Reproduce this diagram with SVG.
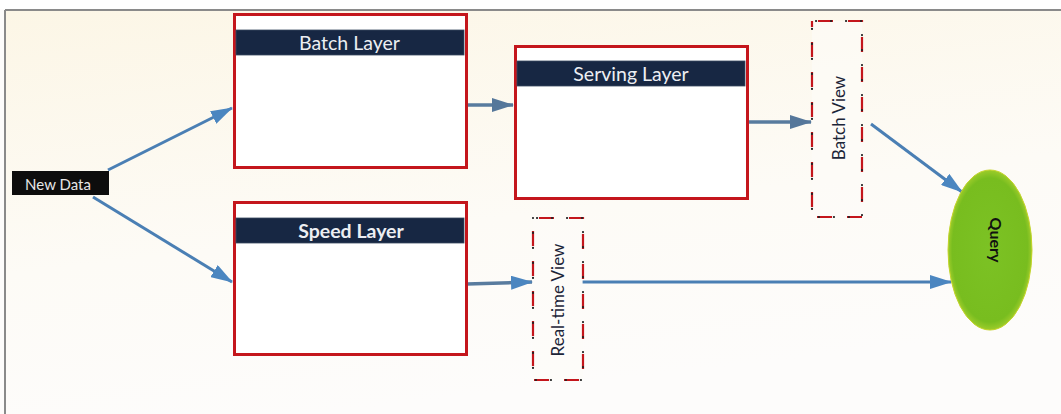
<svg xmlns="http://www.w3.org/2000/svg" width="1061" height="414" viewBox="0 0 1061 414">
<defs>
<linearGradient id="bg" x1="0" y1="0" x2="0.3" y2="1">
<stop offset="0" stop-color="#fcf6e6"/>
<stop offset="0.6" stop-color="#fdfbf6"/>
<stop offset="1" stop-color="#fdfcfb"/>
</linearGradient>
<radialGradient id="qg" cx="0.5" cy="0.5" r="0.5">
<stop offset="0" stop-color="#7cc224"/>
<stop offset="0.9" stop-color="#78bd1f"/>
<stop offset="1" stop-color="#9ccc2a"/>
</radialGradient>
<marker id="ah" viewBox="0 0 22 14" refX="21" refY="7" markerWidth="22" markerHeight="14" markerUnits="userSpaceOnUse" orient="auto">
<path d="M0,0 L22,7 L0,14 z" fill="#4b86c0"/>
</marker>
<marker id="ah2" viewBox="0 0 22 14" refX="21" refY="7" markerWidth="22" markerHeight="14" markerUnits="userSpaceOnUse" orient="auto">
<path d="M0,0 L22,7 L0,14 z" fill="#55779a"/>
</marker>
</defs>
<style>
.box{fill:#ffffff;stroke:#c4161c;stroke-width:3}
.hdr{fill:#172743;stroke:#3a4a60;stroke-width:0.8}
.ht{font-family:Lato,"Open Sans",sans-serif;font-size:19.5px;fill:#eceef2;text-anchor:middle;dominant-baseline:central}
.vr{fill:none;stroke:#c4161c;stroke-width:2.2;stroke-dasharray:15 15}
.vd{fill:none;stroke:#222;stroke-width:2.2;stroke-linecap:round;stroke-dasharray:0.1 14.9;stroke-dashoffset:-4}
.vt{font-family:Lato,"Open Sans",sans-serif;font-size:17px;fill:#1c2538;text-anchor:middle;dominant-baseline:central}
.c{fill:none;stroke:#4a7fb4;stroke-width:3}
.c2{fill:none;stroke:#587b9e;stroke-width:3.5}
</style>
<rect x="0" y="0" width="1061" height="414" fill="#fdfcfb"/>
<rect x="6" y="11" width="1055" height="403" fill="url(#bg)"/>
<rect x="0" y="0" width="1061" height="9" fill="#ffffff"/>
<line x1="5" y1="10" x2="1061" y2="10" stroke="#8a8a8a" stroke-width="2"/>
<line x1="5" y1="10" x2="5" y2="414" stroke="#8a8a8a" stroke-width="2"/>

<g id="connectors">
<line class="c" x1="108" y1="170" x2="232" y2="108" marker-end="url(#ah)"/>
<line class="c" x1="93" y1="197" x2="232" y2="282" marker-end="url(#ah)"/>
<line class="c2" x1="467" y1="105" x2="513" y2="105" marker-end="url(#ah2)"/>
<line class="c2" x1="748" y1="122" x2="811" y2="122" marker-end="url(#ah2)"/>
<line class="c" x1="871" y1="124" x2="962" y2="192" marker-end="url(#ah)"/>
<line class="c2" x1="467" y1="284" x2="532" y2="282" marker-end="url(#ah)"/>
<line class="c" x1="582" y1="282" x2="951" y2="282" marker-end="url(#ah)"/>
</g>

<g id="new-data">
<rect x="12" y="171" width="97" height="24" fill="#0d0d0d"/>
<text x="58" y="183.5" font-family="Lato,'Open Sans',sans-serif" font-size="15" fill="#e6e6e6" text-anchor="middle" dominant-baseline="central">New Data</text>
</g>

<g id="batch-layer">
<rect class="box" x="234.5" y="14.5" width="232" height="153"/>
<rect class="hdr" x="236" y="30" width="228" height="25"/>
<text class="ht" x="349.5" y="42.5">Batch Layer</text>
</g>

<g id="serving-layer">
<rect class="box" x="515.5" y="46.5" width="232" height="152"/>
<rect class="hdr" x="517" y="61" width="228" height="25"/>
<text class="ht" x="631" y="73.5">Serving Layer</text>
</g>

<g id="speed-layer">
<rect class="box" x="234.5" y="202.5" width="232" height="152"/>
<rect class="hdr" x="236" y="218" width="228" height="25"/>
<text class="ht" x="351" y="230.5" font-size="18.5px" font-weight="bold">Speed Layer</text>
</g>

<g id="batch-view">
<rect x="812" y="21" width="50" height="196" fill="#fdfcf8" fill-opacity="0.6"/>
<rect class="vr" x="812" y="21" width="50" height="196" stroke-dashoffset="-36"/>
<rect class="vd" x="812" y="21" width="50" height="196"/>
<text class="vt" transform="translate(838,118) rotate(-90)">Batch View</text>
</g>

<g id="realtime-view">
<rect x="533" y="218" width="50" height="162" fill="#fdfcf8" fill-opacity="0.6"/>
<rect class="vr" x="533" y="218" width="50" height="162" stroke-dashoffset="-36"/>
<rect class="vd" x="533" y="218" width="50" height="162"/>
<text class="vt" transform="translate(557,300) rotate(-90)">Real-time View</text>
</g>

<g id="query">
<ellipse cx="990" cy="250" rx="42" ry="80" fill="url(#qg)" stroke="#c4d42a" stroke-width="1"/>
<text transform="translate(996,240) rotate(90)" font-family="Lato,'Open Sans',sans-serif" font-size="16" font-weight="bold" fill="#111" text-anchor="middle" dominant-baseline="central">Query</text>
</g>
</svg>
